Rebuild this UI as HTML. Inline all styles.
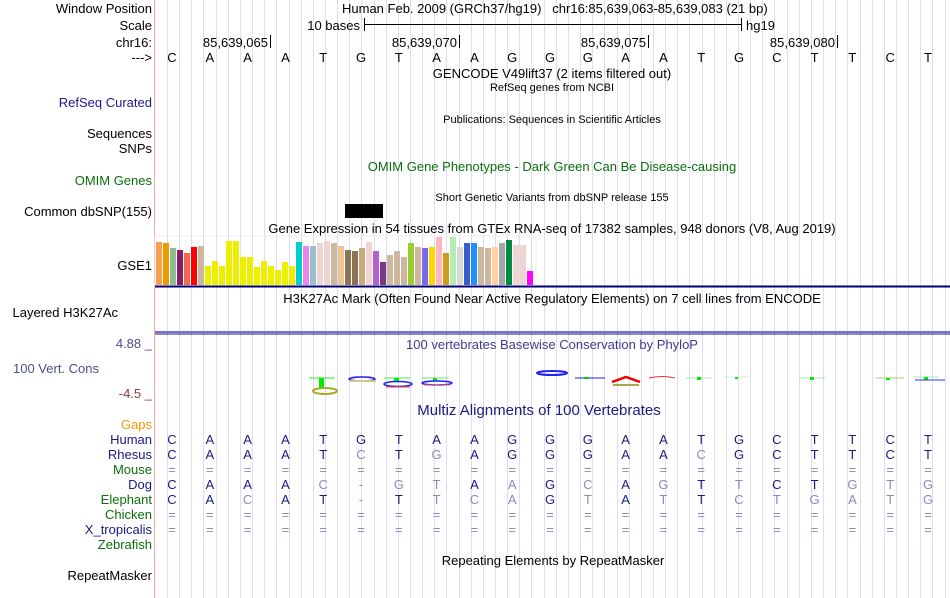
<!DOCTYPE html>
<html><head><meta charset="utf-8"><style>
html,body{margin:0;padding:0;background:#fff;}
svg{display:block;font-family:"Liberation Sans",sans-serif;}
</style></head><body>
<svg id="chart" width="950" height="598" viewBox="0 0 950 598">
<g id="grid"></g>
<line x1="154.5" y1="0" x2="154.5" y2="598" stroke="#ffaaaa" stroke-width="1"/>
<g font-size="13" fill="#000" text-anchor="end">
 <text x="152" y="13">Window Position</text>
 <text x="152" y="30">Scale</text>
 <text x="152" y="47">chr16:</text>
 <text x="152" y="62">---&gt;</text>
 <text x="152" y="107" fill="#1a1a8c">RefSeq Curated</text>
 <text x="152" y="138">Sequences</text>
 <text x="152" y="153">SNPs</text>
 <text x="152" y="185" fill="#0a6e0a">OMIM Genes</text>
 <text x="152" y="216">Common dbSNP(155)</text>
 <text x="152" y="270">GSE1</text>
 <text x="118" y="317">Layered H3K27Ac</text>
 <text x="152" y="348" fill="#4c4c8c">4.88 _</text>
 <text x="99" y="373" fill="#4c4c8c">100 Vert. Cons</text>
 <text x="152" y="398" fill="#8b3a3a">-4.5 _</text>
 <text x="152" y="429" fill="#ee9a00">Gaps</text>
 <text x="152" y="444" fill="#1a1a80">Human</text>
 <text x="152" y="459" fill="#1a1a80">Rhesus</text>
 <text x="152" y="474" fill="#0a6e0a">Mouse</text>
 <text x="152" y="489" fill="#1a1a80">Dog</text>
 <text x="152" y="504" fill="#0a6e0a">Elephant</text>
 <text x="152" y="519" fill="#0a6e0a">Chicken</text>
 <text x="152" y="534" fill="#1a1a80">X_tropicalis</text>
 <text x="152" y="549" fill="#0a6e0a">Zebrafish</text>
 <text x="152" y="580">RepeatMasker</text>
</g>
<g font-size="13">
 <text x="342" y="13">Human Feb. 2009 (GRCh37/hg19)&#160;&#160;&#160;chr16:85,639,063-85,639,083 (21 bp)</text>
 <text x="360" y="30" text-anchor="end">10 bases</text>
 <line x1="364" y1="24.5" x2="741" y2="24.5" stroke="#000"/>
 <line x1="364.5" y1="18" x2="364.5" y2="31" stroke="#000"/>
 <line x1="741.5" y1="18" x2="741.5" y2="31" stroke="#000"/>
 <text x="746" y="30">hg19</text>
 <g id="coords"></g>
 <g id="bases"></g>
</g>
<g text-anchor="middle" font-size="13">
 <text x="552" y="78">GENCODE V49lift37 (2 items filtered out)</text>
 <text x="552" y="91" font-size="11">RefSeq genes from NCBI</text>
 <text x="552" y="123" font-size="11">Publications: Sequences in Scientific Articles</text>
 <text x="552" y="171" fill="#0a6e0a">OMIM Gene Phenotypes - Dark Green Can Be Disease-causing</text>
 <text x="552" y="201" font-size="11">Short Genetic Variants from dbSNP release 155</text>
 <text x="552" y="233">Gene Expression in 54 tissues from GTEx RNA-seq of 17382 samples, 948 donors (V8, Aug 2019)</text>
 <text x="552" y="303">H3K27Ac Mark (Often Found Near Active Regulatory Elements) on 7 cell lines from ENCODE</text>
 <text x="552" y="349" fill="#3c3c8c">100 vertebrates Basewise Conservation by PhyloP</text>
 <text x="539" y="415" font-size="15" fill="#1a1a80">Multiz Alignments of 100 Vertebrates</text>
 <text x="553" y="565">Repeating Elements by RepeatMasker</text>
</g>
<rect x="345" y="204" width="38" height="14" fill="#000"/>
<g id="gtex"></g>
<line x1="155" y1="286.5" x2="950" y2="286.5" stroke="#000070" stroke-width="2"/>
<line x1="155" y1="332" x2="950" y2="332" stroke="#7070e0" stroke-width="2"/>
<line x1="155" y1="334" x2="950" y2="334" stroke="#1a1a50" stroke-width="1"/>
<g id="cons">
 <line x1="309" y1="378" x2="335" y2="378" stroke="#22ee22"/><rect x="319" y="378" width="5" height="10" fill="#00ee00"/>
 <ellipse cx="325" cy="391" rx="12" ry="3" fill="none" stroke="#aaaa22" stroke-width="2"/>
 <ellipse cx="362" cy="379" rx="13" ry="2" fill="none" stroke="#2222ee" stroke-width="1.5"/><rect x="350" y="380" width="26" height="2" fill="#cccc88"/>
 <line x1="384" y1="378" x2="410" y2="378" stroke="#44ee44"/><rect x="394" y="378" width="5" height="4" fill="#00ee00"/>
 <ellipse cx="398" cy="384" rx="14" ry="2.5" fill="none" stroke="#2222ee" stroke-width="1.5"/><line x1="386" y1="387" x2="410" y2="387" stroke="#ee4444"/>
 <line x1="422" y1="378" x2="448" y2="378" stroke="#66ee66"/><rect x="433" y="378" width="4" height="3" fill="#00ee00"/>
 <ellipse cx="437" cy="383" rx="15" ry="2" fill="none" stroke="#2222ee" stroke-width="1.5"/><line x1="424" y1="385" x2="450" y2="385" stroke="#ee6666"/>
 <ellipse cx="552" cy="373" rx="15" ry="2" fill="none" stroke="#2222ee" stroke-width="2"/>
 <line x1="575" y1="378" x2="605" y2="378" stroke="#2222ee"/><rect x="584" y="377" width="5" height="2" fill="#00cc00"/>
 <path d="M612 382 L626 377 L640 382" fill="none" stroke="#ee0000" stroke-width="2.5"/><line x1="613" y1="385" x2="639" y2="385" stroke="#aaaa44" stroke-width="2"/>
 <path d="M649 378 Q662 375 675 378" fill="none" stroke="#ee3333"/>
 <line x1="686" y1="378" x2="712" y2="378" stroke="#aaeeaa"/><rect x="697" y="377" width="4" height="3" fill="#00ee00"/>
 <line x1="724" y1="377" x2="750" y2="377" stroke="#ccf0cc"/><rect x="735" y="377" width="3" height="2" fill="#00ee00"/>
 <line x1="799" y1="378" x2="825" y2="378" stroke="#aaeeaa"/><rect x="810" y="377" width="4" height="3" fill="#00ee00"/>
 <line x1="876" y1="378" x2="904" y2="378" stroke="#aacc66"/><rect x="886" y="378" width="4" height="2" fill="#00ee00"/>
 <line x1="913" y1="377" x2="939" y2="377" stroke="#aaeeaa"/><rect x="924" y="377" width="4" height="3" fill="#00ee00"/><line x1="915" y1="380" x2="945" y2="380" stroke="#3333ee"/>
</g>
<g id="multiz" font-size="13" text-anchor="middle"></g>
</svg>
<script>
const NS='http://www.w3.org/2000/svg';
const refBases=['C','A','A','A','T','G','T','A','A','G','G','G','A','A','T','G','C','T','T','C','T'];
const species=['Human','Rhesus','Mouse','Dog','Elephant','Chicken','X_tropicalis'];
const speciesSeqs=[
 'CAAATGTAAGGGAATGCTTCT',
 'CAAATCTGAGGGAACGCTTCT',
 '=====================',
 'CAAAC-GTAAGCAGTTCTGTG',
 'CACAT-TTCAGTATTCTGATG',
 '=====================',
 '====================='
];
const coordLabels=['85,639,065','85,639,070','85,639,075','85,639,080'];
const coordBaseIdx=[2,7,12,17];
const gtexValues=[43,42,37,35,32,38,39,19,24,19,44,44,28,28,18,24,19,15,23,19,43,39,39,42,44,42,39,35,34,37,43,34,23,30,34,28,42,38,37,38,48,32,48,38,42,42,38,37,38,42,45,40,40,14];
const gtexColors=['#f6a04d','#ee9a00','#8fbc8f','#8b1c62','#ee6a50','#ff0000','#cdb79e','#eeee00','#eeee00','#eeee00','#eeee00','#eeee00','#eeee00','#eeee00','#eeee00','#eeee00','#eeee00','#eeee00','#eeee00','#eeee00','#00cdcd','#ee82ee','#9ac0cd','#eed5d2','#eed5d2','#cdb79e','#eec591','#8b7355','#8b7355','#cdaa7d','#eed5d2','#b460cd','#7a378b','#cdb79e','#cdb79e','#cdb79e','#9acd32','#cdb79e','#7b68ee','#ffd700','#ffb6c1','#cd9b1d','#b4eeb4','#d9d9d9','#3a5fcd','#1e90ff','#cdb79e','#cdb79e','#ffd39b','#a6a6a6','#008b45','#eed5d2','#eed5d2','#ff00ff'];

const bw=37.8;
function baseX(i){return 172+bw*i;}
const gBottom=285, gScale=1;
function gY(v){return gBottom - v*gScale;}
function barX(i){return 156+i*7;}

const grid=document.getElementById('grid');
for(let x=167;x<950;x+=12.15){
 const l=document.createElementNS(NS,'line');
 l.setAttribute('x1',Math.round(x)+0.5);l.setAttribute('x2',Math.round(x)+0.5);
 l.setAttribute('y1',0);l.setAttribute('y2',598);
 l.setAttribute('stroke','#dcdcf5');
 
 
 grid.appendChild(l);
}
const coords=document.getElementById('coords');
coordLabels.forEach((c,k)=>{
 const xr=Math.round(baseX(coordBaseIdx[k])+22);
 const t=document.createElementNS(NS,'text');
 t.setAttribute('x',xr-2);t.setAttribute('y',47);t.setAttribute('text-anchor','end');t.setAttribute('font-size','13');
 t.textContent=c;
 
 
 coords.appendChild(t);
 const l=document.createElementNS(NS,'line');
 l.setAttribute('x1',xr+0.5);l.setAttribute('x2',xr+0.5);l.setAttribute('y1',35);l.setAttribute('y2',48);l.setAttribute('stroke','#000');
 
 
 coords.appendChild(l);
});
const bases=document.getElementById('bases');
refBases.forEach((b,i)=>{
 const t=document.createElementNS(NS,'text');
 t.setAttribute('x',baseX(i));t.setAttribute('y',62);t.setAttribute('text-anchor','middle');t.setAttribute('font-size','13');
 t.textContent=b;
 
 
 bases.appendChild(t);
});
const gtex=document.getElementById('gtex');
const frame=document.createElementNS(NS,'rect');
frame.setAttribute('x',155);frame.setAttribute('y',236);frame.setAttribute('width',381);frame.setAttribute('height',50);
frame.setAttribute('fill','none');frame.setAttribute('stroke','#eeeeee');


gtex.appendChild(frame);
gtexValues.forEach((v,i)=>{
 const r=document.createElementNS(NS,'rect');
 r.setAttribute('x',barX(i));r.setAttribute('y',gY(v));r.setAttribute('width',6);r.setAttribute('height',gBottom-gY(v));
 r.setAttribute('fill',gtexColors[i]);
 
 
 gtex.appendChild(r);
});
const mz=document.getElementById('multiz');
speciesSeqs.forEach((seq,r)=>{
 const y=444+r*15;
 for(let i=0;i<seq.length;i++){
  const ch=seq[i];
  const t=document.createElementNS(NS,'text');
  t.setAttribute('x',baseX(i));t.setAttribute('y',y);
  const match=(r===0)||(ch===refBases[i]);
  t.setAttribute('fill',(ch==='='||ch==='-'||!match)?'#8c8cb4':'#1a1a80');
  t.textContent=ch;
  
  
  mz.appendChild(t);
 }
});
</script>
</body></html>
